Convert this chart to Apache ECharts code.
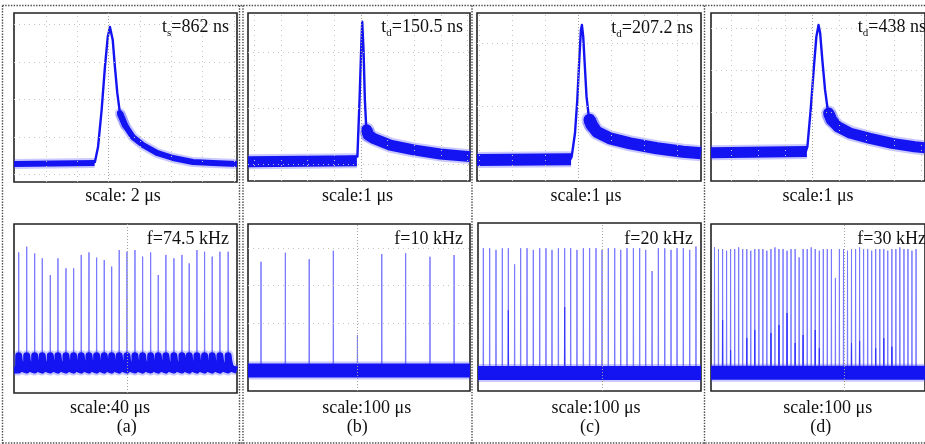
<!DOCTYPE html>
<html>
<head>
<meta charset="utf-8">
<script src="https://cdn.jsdelivr.net/npm/echarts@6/dist/echarts.min.js"></script>
<style>
  html, body { margin: 0; padding: 0; background: #fff; }
  #scope { width: 925px; height: 444px; }
</style>
</head>
<body>
<div id="scope"></div>
<script>
var myChart = echarts.init(document.getElementById('scope'));

// ---- top row: one pulse per screen, t in us (0 = centre graticule), amplitude in % of screen height
var pulseA_t = [-6.05, -0.88, -0.68, -0.45, -0.24, -0.06, 0.08, 0.26, 0.40, 0.55, 0.72, 1.04, 1.55, 2.19, 3.08, 4.11, 5.38, 6.66, 8.2];
var pulseA_v = [10.7, 11.8, 20.7, 42.6, 68, 85.8, 91.7, 84, 68, 52.7, 40.8, 33.7, 26.6, 21.9, 17.2, 14.2, 11.8, 11.2, 10.7];
var pulseB_t = [-4.23, -0.13, -0.05, 0.01, 0.05, 0.10, 0.15, 0.20, 0.28, 0.47, 1.10, 1.97, 2.97, 4.09];
var pulseB_v = [11.5, 14.5, 48.2, 78, 94.8, 78, 48.2, 32.3, 27.4, 25.4, 21.4, 18.5, 16.1, 14.5];
var pulseC_t = [-3.07, -0.25, -0.2, -0.1, -0.03, 0.03, 0.08, 0.11, 0.15, 0.2, 0.25, 0.32, 0.41, 0.56, 0.96, 1.57, 2.38, 3.18, 3.72];
var pulseC_v = [12.5, 12.5, 14.5, 28.4, 48.2, 72, 89.9, 92.9, 85.9, 68, 50.2, 38.3, 33.3, 29.3, 25.4, 22.4, 19.5, 17.4, 16.5];
var pulseD_t = [-3.73, -0.24, -0.18, -0.06, 0.06, 0.15, 0.23, 0.29, 0.37, 0.47, 0.57, 0.71, 0.94, 1.41, 2.12, 2.94, 3.77, 4.15];
var pulseD_v = [16.8, 17.5, 20.4, 42.3, 68, 85.9, 92.9, 87.9, 72, 54.2, 42.3, 36.3, 32.3, 28.4, 25.4, 22.4, 20.4, 19.8];

// noisy (thick) parts of the same traces: baseline before the edge and the decay tail
var noiseA_base = [[-6.05, 10.7], [-0.9, 11.2]];
var noiseA_tail = [[0.72, 40.8], [1.04, 33.7], [1.55, 26.6], [2.19, 21.9], [3.08, 17.2], [4.11, 14.2], [5.38, 11.8], [6.66, 11.2], [8.2, 10.7]];
var noiseB_base = [[-4.23, 11.5], [-0.15, 12]];
var noiseB_tail = [[0.22, 30.5], [0.28, 27.4], [0.47, 25.4], [1.10, 21.4], [1.97, 18.5], [2.97, 16.1], [4.09, 14.5]];
var noiseC_base = [[-3.07, 12.5], [-0.22, 13]];
var noiseC_tail = [[0.34, 36.5], [0.41, 33.3], [0.56, 29.3], [0.96, 25.4], [1.57, 22.4], [2.38, 19.5], [3.18, 17.4], [3.72, 16.5]];
var noiseD_base = [[-3.73, 16.8], [-0.2, 17.5]];
var noiseD_tail = [[0.6, 40.5], [0.71, 36.3], [0.94, 32.3], [1.41, 28.4], [2.12, 25.4], [2.94, 22.4], [3.77, 20.4], [4.15, 19.8]];

// ---- bottom row: pulse trains, t in us from the left edge of the screen
var trainA_t = [8.1, 21.9, 35.6, 48.7, 62.5, 75.7, 89.5, 102.7, 115.8, 129.1, 142.3, 155.4, 168.2, 181.2, 194.5, 208.3, 221.5, 235.3, 248.4, 261.6, 275.4, 289.2, 301.7, 315.0, 328.2, 341.3, 354.6, 368.8];
var trainA_h = [83.2, 86.6, 82.6, 79.7, 69.8, 79.7, 73.8, 73.8, 81.7, 83.2, 80.1, 78.7, 74.8, 84.6, 83.6, 84.6, 80.7, 83.2, 69.8, 81.7, 79.7, 81.7, 76.7, 84.6, 83.6, 80.7, 83.6, 83.6];
var trainB_t = [54, 155, 254, 354, 454, 555, 654, 755, 855];
var trainB_h = [77.4, 82.8, 78.9, 84.0, 33.5, 82.0, 82.5, 80.4, 81.4];
var trainC_t = [42.5, 93, 143.5, 194, 242, 292, 340, 391, 441, 492, 542, 590, 641, 691, 739, 789, 840, 890, 941, 989, 1039, 1090, 1138, 1188, 1239, 1289, 1337, 1388, 1438, 1489, 1539, 1587, 1637, 1688, 1738];
var trainC_h = [85, 85, 84, 85, 85, 75.4, 85, 85, 84, 85, 85, 84, 85, 85, 85, 84, 85, 85, 85, 84, 85, 85, 84, 85, 85, 85, 84, 71.4, 85, 85, 84, 85, 85, 84, 86];
var trainD_t = [29, 62, 96, 129, 162, 196, 229, 262, 296, 329, 362, 396, 429, 462, 496, 529, 562, 596, 629, 662, 696, 729, 762, 796, 829, 862, 896, 929, 962, 996, 1029, 1062, 1096, 1129, 1162, 1196, 1229, 1262, 1296, 1329, 1362, 1396, 1429, 1462, 1496, 1529, 1562, 1596, 1629, 1662, 1696];
var trainD_h = [86, 85, 85, 84, 85, 85, 86, 85, 85, 84, 85, 85, 85, 84, 85, 86, 85, 85, 84, 85, 85, 80, 85, 85, 86, 85, 84, 85, 85, 85, 67.7, 85, 85, 84, 85, 85, 86, 85, 85, 84, 85, 85, 85, 84, 85, 85, 86, 85, 85, 84, 85];
// brighter (overlapping sweeps) lower parts of some pulses
var partC_t = [242, 691];
var partC_h = [48, 50];
var partD_t = [96, 162, 296, 362, 496, 562, 629, 696, 762, 862, 896, 1162, 1229, 1362, 1429, 1496];
var partD_h = [42.5, 24.5, 31.7, 36.5, 34.7, 39.5, 46.7, 28.7, 33.5, 36.5, 25.7, 28.7, 30, 25.6, 31.6, 26.5];
var trainBase = [13.6, 12.3, 10.7, 11];          // baseline level of each train
var tailA_dt = [-0.3, 0, 1, 3, 6, 9];            // decay hook after each pulse in (a)
var tailA_v = [13.6, 22, 19, 16, 14.5, 13.6];

// labels
var topLabels = ['t{s|s}=862 ns', 't{s|d}=150.5 ns', 't{s|d}=207.2 ns', 't{s|d}=438 ns'];
var freqLabels = ['f=74.5 kHz', 'f=10 kHz', 'f=20 kHz', 'f=30 kHz'];
var topScales = ['scale: 2 \u03bcs', 'scale:1 \u03bcs', 'scale:1 \u03bcs', 'scale:1 \u03bcs'];
var bottomScales = ['scale:40 \u03bcs', 'scale:100 \u03bcs', 'scale:100 \u03bcs', 'scale:100 \u03bcs'];
var panelNames = ['(a)', '(b)', '(c)', '(d)'];

// graticule lines (data units of each screen)
var gratX = [[-4, -2, 2, 4, 6, 8], [-4, -3, -2, -1, 1, 2, 3, 4], [-3, -2, -1, 1, 2, 3], [-3, -2, -1, 1, 2, 3, 4], [], [], [], []];
var gratY = [[4.4, 26.6, 49.1, 71, 93.1], [76.6, 43.3, 10], [82, 44.2], [91, 66, 41], [], [85.6, 63.5, 40.7], [], []];
var centreX = [0, 0, 0, 0, 195.7, 453.5, 994, 1103];

// ---------- layout ----------
var screens = [
    { left: 14,  top: 13,  width: 223, height: 169, x: [-6.05, 8.2] },
    { left: 248, top: 13,  width: 222, height: 168, x: [-4.23, 4.09] },
    { left: 477, top: 13,  width: 224, height: 168, x: [-3.07, 3.72] },
    { left: 711, top: 13,  width: 223, height: 168, x: [-3.73, 4.15] },
    { left: 14,  top: 224, width: 223, height: 169, x: [0, 384] },
    { left: 248, top: 224, width: 222, height: 167, x: [0, 921] },
    { left: 478, top: 223, width: 223, height: 168, x: [0, 1778] },
    { left: 711, top: 224, width: 223, height: 167, x: [0, 1770] }
];

var BLUE = '#1414f2';
var SPIKE = '#7878ff';
var SERIF = '"Liberation Serif", "Times New Roman", serif';

function zip(ts, vs) {
    return ts.map(function (t, i) { return [t, vs[i]]; });
}
function spikes(ts, hs, base, dt) {
    var out = [];
    ts.forEach(function (t, i) { out.push([t - dt, base], [t, hs[i]], [t + dt, base]); });
    return out;
}
function hooks(ts, base, x0, x1) {
    var out = [[x0, base]];
    ts.forEach(function (t) {
        tailA_dt.forEach(function (d, j) { out.push([t + d, tailA_v[j]]); });
    });
    out.push([x1, base]);
    return out;
}
function line(idx, data, color, width, opacity, z, cap) {
    return {
        type: 'line', xAxisIndex: idx, yAxisIndex: idx, data: data, symbol: 'none',
        silent: true, z: z, connectNulls: false,
        lineStyle: { color: color, width: width, opacity: opacity, join: 'round', cap: cap || 'butt' }
    };
}
function graticule(idx) {
    var faint = { color: '#c4c4c4', width: 1, type: [1, 4] };
    var centre = { color: '#a0a0a0', width: 1, type: [1, 2] };
    var d = [];
    gratX[idx].forEach(function (v) { d.push({ xAxis: v, lineStyle: faint }); });
    gratY[idx].forEach(function (v) { d.push({ yAxis: v, lineStyle: faint }); });
    d.push({ xAxis: centreX[idx], lineStyle: centre });
    return {
        type: 'line', xAxisIndex: idx, yAxisIndex: idx, data: [], z: 1, silent: true,
        markLine: { symbol: ['none', 'none'], silent: true, animation: false, label: { show: false }, data: d }
    };
}

var series = [];
for (var i = 0; i < 8; i++) series.push(graticule(i));

// top row
var pulses = [zip(pulseA_t, pulseA_v), zip(pulseB_t, pulseB_v), zip(pulseC_t, pulseC_v), zip(pulseD_t, pulseD_v)];
var noiseBase = [noiseA_base, noiseB_base, noiseC_base, noiseD_base];
var noiseTail = [noiseA_tail, noiseB_tail, noiseC_tail, noiseD_tail];
var noiseWidth = [6, 11, 12, 11];
for (var k = 0; k < 4; k++) {
    var band = noiseBase[k].concat([['-', '-']], noiseTail[k]);
    var start = noiseTail[k].slice(0, 2);      // rounded onset of the noisy tail
    series.push(line(k, band, '#4b4bff', noiseWidth[k] + 4, 0.3, 2));
    series.push(line(k, start, '#4b4bff', noiseWidth[k] + 4, 0.3, 2, 'round'));
    series.push(line(k, band, BLUE, noiseWidth[k], 1, 3));
    series.push(line(k, start, BLUE, noiseWidth[k], 1, 3, 'round'));
    series.push(line(k, pulses[k], BLUE, 2.4, 1, 4));
}

// bottom row
var trains = [[trainA_t, trainA_h, 0.4], [trainB_t, trainB_h, 1], [trainC_t, trainC_h, 2], [trainD_t, trainD_h, 2]];
var parts = [null, null, [partC_t, partC_h], [partD_t, partD_h]];
for (var m = 0; m < 4; m++) {
    var idx = m + 4;
    var base = trainBase[m];
    var x = screens[idx].x;
    var floor = m === 0 ? hooks(trainA_t, base, x[0], x[1]) : [[x[0], base], [x[1], base]];
    var w = m === 0 ? 7 : 14;
    series.push(line(idx, spikes(trains[m][0], trains[m][1], base, trains[m][2]), SPIKE, 1, 1, 2));
    if (parts[m]) series.push(line(idx, spikes(parts[m][0], parts[m][1], base, trains[m][2]), '#3535ff', 1, 1, 2));
    series.push(line(idx, floor, '#4b4bff', w + 4, 0.3, 3));
    series.push(line(idx, floor, BLUE, w, 1, 4));
}

// ---------- text + dotted frames ----------
var graphic = [];
function txt(x, y, text, align, vAlign, extra) {
    var style = {
        x: 0, y: 0, text: text, fill: '#111', font: '18px ' + SERIF,
        align: align, textAlign: align, verticalAlign: vAlign, textVerticalAlign: vAlign
    };
    if (extra) for (var key in extra) style[key] = extra[key];
    graphic.push({ type: 'text', x: x, y: y, z: 100, silent: true, style: style });
}
function dotted(x1, y1, x2, y2) {
    graphic.push({
        type: 'line', z: 90, silent: true, shape: { x1: x1, y1: y1, x2: x2, y2: y2 },
        style: { stroke: '#4a4a4a', lineWidth: 1.4, lineDash: [1.4, 1.4] }
    });
}
[2.5, 239.5, 243, 472, 704.5].forEach(function (xx) { dotted(xx, 5.5, xx, 444); });
dotted(2.5, 5.5, 925, 5.5);
dotted(2.5, 443, 925, 443);

var topRight = [229, 463, 693, 926];
var topY = [27.5, 27.5, 28.5, 27.5];
var scaleX = [123, 357.5, 586, 818];
var trainScaleX = [110, 366.7, 596, 827.7];
var nameX = [126.7, 357.3, 590, 820.7];
for (var n = 0; n < 4; n++) {
    txt(topRight[n], topY[n], topLabels[n], 'right', 'middle', {
        lineHeight: 22,
        rich: { s: { fontSize: 11, fontFamily: SERIF, lineHeight: 11, verticalAlign: 'bottom', fill: '#111' } }
    });
    txt(topRight[n], 239, freqLabels[n], 'right', 'middle');
    txt(scaleX[n], 196, topScales[n], 'center', 'middle');
    txt(trainScaleX[n], 408.5, bottomScales[n], 'center', 'middle');
    txt(nameX[n], 427, panelNames[n], 'center', 'middle');
}

option = {
    animation: false,
    backgroundColor: '#fff',
    grid: screens.map(function (s) {
        return { left: s.left, top: s.top, width: s.width, height: s.height, show: true,
                 backgroundColor: '#fff', borderColor: '#222', borderWidth: 1.6 };
    }),
    xAxis: screens.map(function (s, i) {
        return { type: 'value', gridIndex: i, min: s.x[0], max: s.x[1], show: false };
    }),
    yAxis: screens.map(function (s, i) {
        return { type: 'value', gridIndex: i, min: 0, max: 100, show: false };
    }),
    series: series,
    graphic: graphic
};

myChart.setOption(option);
</script>
</body>
</html>
